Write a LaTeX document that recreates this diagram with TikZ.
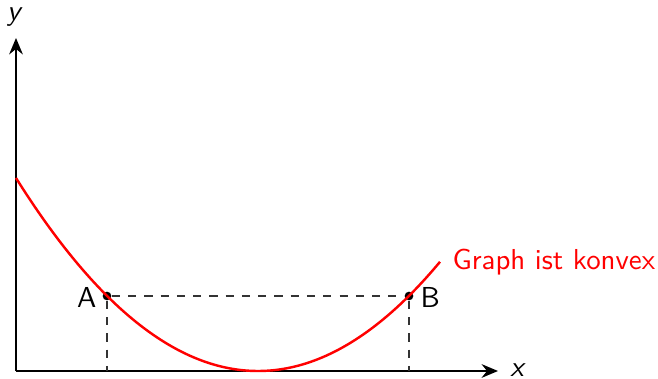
\documentclass[tikz,border=0pt]{standalone}
\usetikzlibrary{arrows.meta}
\begin{document}
\begin{tikzpicture}[x=0.369pt,y=-0.369pt,font=\sffamily\fontsize{10.65}{13}\selectfont,
  axis/.style={line width=0.95pt,-{Stealth[length=6pt,width=5pt]}},
  guide/.style={dashed,thin,black!80},
  curve/.style={line width=0.9pt,red},
  lab/.style={inner sep=0pt},
  dotpt/.style={circle,fill=black,inner sep=0pt,minimum size=3.2pt}]
\useasboundingbox (0,0) rectangle (658,379);
\coordinate (O) at (16,371);
\coordinate (Y) at (16,38);
\coordinate (X) at (498,371);
\draw[axis] (O) -- (Y);
\draw[axis] (O) -- (X);
\node[lab] (ylab) at (15,17) {\textit{y}};
\node[lab] (xlab) at (518,370) {\textit{x}};
\coordinate (Af) at (107,371);
\coordinate (Bf) at (409,371);
\node[dotpt] (A) at (107,296) {};
\node[dotpt] (B) at (409,296) {};
\draw[guide] (A) -- (B);
\draw[guide] (A) -- (Af);
\draw[guide] (B) -- (Bf);
\draw[curve] plot[domain=16:440,samples=80,smooth] (\x,{371-32.96*((\x-258)/100)^2});
\node[lab,anchor=east] (Alab) at (97,297) {A};
\node[lab,anchor=west] (Blab) at (420,297) {B};
\node[lab,anchor=west,text=red] (glab) at (452,262) {Graph ist konvex};
\end{tikzpicture}
\end{document}
